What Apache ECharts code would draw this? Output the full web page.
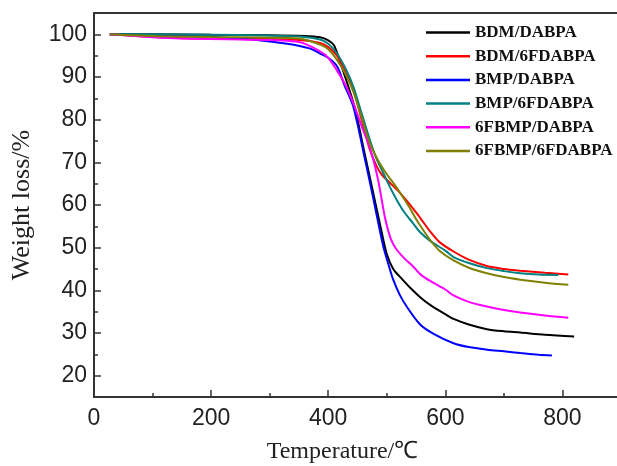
<!DOCTYPE html>
<html>
<head>
<meta charset="utf-8">
<script src="https://cdn.jsdelivr.net/npm/echarts@6/dist/echarts.min.js"></script>
<style>html,body{margin:0;padding:0;background:#fff;overflow:hidden}#c{width:617px;height:466px}</style>
</head>
<body>
<div id="c"></div>
<script>
// Series names
const seriesNames = ['BDM/DABPA','BDM/6FDABPA','BMP/DABPA','BMP/6FDABPA','6FBMP/DABPA','6FBMP/6FDABPA'];
const seriesColors = ['#000000','#ff0000','#0000ff','#008080','#ff00ff','#808000'];

// [Temperature (°C), Weight (%)]
const bdmDabpa = [[27,100],[100,100],[200,99.9],[300,99.8],[360,99.6],[386,99.3],[400,98.6],[410,97.4],[425,91.6],[445,83],[460,73.5],[475,64],[490,54.5],[500,48.5],[511,45],[525,42.8],[540,40.6],[557,38.4],[574,36.6],[600,34.4],[614,33.3],[640,32],[671,30.9],[700,30.4],[728,30.1],[770,29.6],[820,29.2]];
const bdm6fdabpa = [[27,100],[100,99.4],[150,99.1],[250,99],[350,98.7],[386,98],[400,97],[415,95],[430,91],[443,87],[457,80],[471,73],[483,69],[492,67],[500,65.9],[512,64.3],[523,62.8],[537,60.5],[551,58.1],[557,57],[574,53.8],[590,51.3],[614,49.1],[640,47.2],[671,45.7],[700,45],[728,44.6],[770,44.1],[810,43.7]];
const bmpDabpa = [[27,100],[100,99.8],[200,99.4],[270,98.8],[330,97.8],[368,96.7],[386,95.5],[400,94.5],[415,92.5],[428,88],[443,83],[460,72.5],[477,61.5],[494,50.3],[503,46],[511,42.5],[522,39],[534,36.2],[557,32],[580,29.8],[614,27.6],[640,26.7],[671,26.1],[700,25.7],[728,25.3],[760,24.9],[782,24.7]];
const bmp6fdabpa = [[27,100],[100,100],[200,99.9],[300,99.7],[360,99.4],[386,98.8],[400,97.8],[415,95.5],[431,91.6],[443,87.7],[457,81.5],[471,75.3],[482,71],[494,67.5],[505,64.3],[517,61.2],[530,58.3],[545,55.7],[557,53.6],[574,51.6],[600,49.3],[614,47.8],[640,46.4],[671,45.2],[700,44.5],[728,44],[760,43.7],[793,43.6]];
const fbmpDabpa = [[27,100],[100,99.3],[150,99],[250,98.8],[350,98.2],[386,96],[400,94.5],[415,91.5],[430,88],[443,83.8],[457,78.5],[471,73.5],[485,66],[497,57],[507,52],[517,49.5],[530,47.5],[545,45.6],[557,43.8],[574,42.2],[600,40.2],[614,38.8],[640,37.3],[671,36.2],[700,35.4],[728,34.8],[770,34.1],[810,33.6]];
const fbmp6fdabpa = [[27,100],[100,99.6],[200,99.4],[300,99.2],[350,99],[386,97.6],[400,96.5],[415,94],[430,90.5],[443,86.5],[457,80.5],[471,74.5],[485,70.5],[500,67.2],[512,65],[523,62.8],[537,59.8],[551,56.5],[557,55.2],[574,51.8],[590,49.3],[614,47],[640,45.3],[671,44],[700,43.1],[728,42.5],[770,41.8],[810,41.3]];

// Axis ticks
const xMajorTicks = [0,200,400,600,800];
const xMinorTicks = [100,300,500,700];
const yMajorTicks = [20,30,40,50,60,70,80,90,100];
const yMinorTicks = [25,35,45,55,65,75,85,95];

const allData = [bdmDabpa,bdm6fdabpa,bmpDabpa,bmp6fdabpa,fbmpDabpa,fbmp6fdabpa];

const chart = echarts.init(document.getElementById('c'), null, {renderer:'canvas'});
const axisColor = '#333';
const option = {
  animation:false,
  backgroundColor:'#fff',
  grid:{left:94,top:13,width:527,height:384,show:false,outerBoundsMode:'none',containLabel:false},
  legend:{
    orient:'vertical',left:426,top:24,padding:0,
    itemWidth:44,itemHeight:2.5,itemGap:6.7,icon:'rect',
    textStyle:{fontFamily:'Liberation Serif',fontWeight:'bold',fontSize:17,color:'#111',lineHeight:17},
    data:seriesNames
  },
  xAxis:[{
    type:'value',min:0,max:900,position:'bottom',
    axisLine:{show:true,lineStyle:{color:axisColor,width:2}},
    axisTick:{show:true,inside:true,length:7,customValues:xMajorTicks,lineStyle:{color:axisColor,width:1.5}},
    axisLabel:{customValues:xMajorTicks,fontFamily:'Liberation Sans',fontSize:23,color:'#222',margin:10},
    splitLine:{show:false},
    name:'Temperature/℃',nameLocation:'middle',nameGap:43,
    nameTextStyle:{fontFamily:'Liberation Serif',fontSize:24,color:'#222',padding:[0,30,0,0]}
  },{
    type:'value',min:0,max:900,position:'bottom',
    axisLine:{show:false},
    axisTick:{show:true,inside:true,length:4,customValues:xMinorTicks,lineStyle:{color:axisColor,width:1.5}},
    axisLabel:{show:false},splitLine:{show:false}
  },{
    type:'value',min:0,max:900,position:'top',
    axisLine:{show:true,lineStyle:{color:axisColor,width:2}},
    axisTick:{show:false},axisLabel:{show:false},splitLine:{show:false}
  }],
  yAxis:[{
    type:'value',min:15,max:105,position:'left',
    axisLine:{show:true,lineStyle:{color:axisColor,width:2}},
    axisTick:{show:true,inside:true,length:7,customValues:yMajorTicks,lineStyle:{color:axisColor,width:1.5}},
    axisLabel:{customValues:yMajorTicks,fontFamily:'Liberation Sans',fontSize:23,color:'#222',margin:7},
    splitLine:{show:false},
    name:'Weight loss/%',nameLocation:'middle',nameGap:59,nameRotate:90,
    nameTextStyle:{fontFamily:'Liberation Serif',fontSize:26,color:'#222'}
  },{
    type:'value',min:15,max:105,position:'left',offset:0,
    axisLine:{show:false,onZero:false},
    axisTick:{show:true,inside:true,length:4,customValues:yMinorTicks,lineStyle:{color:axisColor,width:1.5}},
    axisLabel:{show:false},splitLine:{show:false}
  }],
  series: seriesNames.map((n,i)=>({
    name:n,type:'line',data:allData[i],xAxisIndex:0,yAxisIndex:0,
    showSymbol:false,symbol:'none',smooth:0.3,
    lineStyle:{color:seriesColors[i],width:2},itemStyle:{color:seriesColors[i]}
  }))
};
chart.setOption(option);
</script>
</body>
</html>
